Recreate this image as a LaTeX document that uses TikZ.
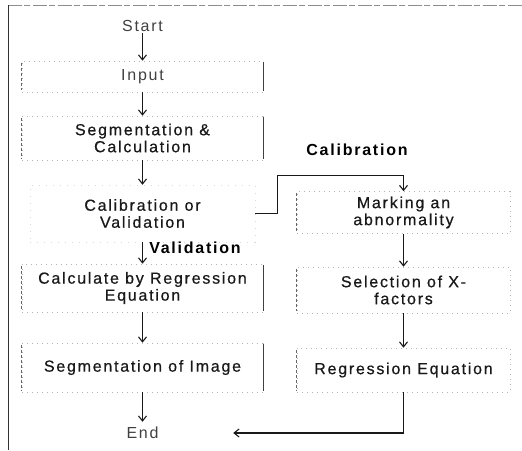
\documentclass[tikz,border=0pt]{standalone}
\usepackage{fontspec}
\setmainfont{Liberation Sans}[LetterSpace=11]
\newfontfamily\heavyfont{Liberation Sans}[LetterSpace=11, FakeBold=0.6]
\usetikzlibrary{arrows.meta}
\tikzset{
  txt/.style={font=\heavyfont\fontsize{16}{17}\selectfont, align=center, text=black!90, inner sep=0pt},
  lbl/.style={font=\fontsize{16}{18}\selectfont\bfseries, inner sep=0pt, text=black},
  boxl/.style={txt, draw=black!30, dash pattern=on 1pt off 4pt, line width=0.6pt, minimum width=241pt},
  boxr/.style={txt, draw=black!30, dash pattern=on 1pt off 4pt, line width=0.6pt, minimum width=213pt},
  plain/.style={txt, font=\fontsize{16}{17}\selectfont, text=black!75},
  arr/.style={-{Straight Barb[length=5pt,width=8pt,line width=1.1pt]}, line width=1.3pt, black!90},
  edge/.style={line width=0.9pt, black!75},
  ledge/.style={line width=0.8pt, black!60, dash pattern=on 3pt off 2pt},
}
\begin{document}
\begin{tikzpicture}[x=1pt, y=-1pt]
\useasboundingbox (0,0) rectangle (522,450);
% outer frame
\draw[line width=0.8pt, black!45, dash pattern=on 14pt off 2pt on 6pt off 3pt] (8,5) -- (522,5);
\draw[line width=1pt, black!80] (8,5) -- (8,450);

% left column
\node[plain, minimum height=14pt] (start) at (142.5,26) {Start};
\node[boxl, minimum height=31pt, font=\fontsize{16}{17}\selectfont, text=black!75] (input) at (142.5,76.5) {Input};
\node[boxl, minimum height=44pt] (segcalc) at (142.5,138) {Segmentation \&\\Calculation};
\node[txt, draw=black!15, dash pattern=on 1pt off 6pt, minimum width=225pt, minimum height=57pt] (calval) at (142.5,213.5) {Calibration or\\Validation};
\node[boxl, minimum height=48pt] (calcreg) at (142.5,288) {Calculate by Regression\\Equation};
\node[boxl, minimum height=49pt] (segimg) at (142.5,367.5) {Segmentation of Image};
\node[plain, minimum height=22pt, minimum width=181pt] (end) at (142.5,433) {End};

% right column
\node[boxr, minimum height=42pt] (marking) at (403.5,212.5) {Marking an\\abnormality};
\node[boxr, minimum height=46pt] (select) at (403.5,290) {Selection of X-\\factors};
\node[boxr, minimum height=44pt] (regeq) at (403.5,370) {Regression Equation};

% box side edges
\foreach \b in {input,segcalc,calcreg,segimg}{
  \draw[edge] ([yshift=-1pt]\b.north east) -- ([yshift=1pt]\b.south east);
  \draw[ledge] ([yshift=-2pt]\b.north west) -- ([yshift=2pt]\b.south west);
}
\foreach \b in {marking,select,regeq}{
  \draw[ledge] ([yshift=-2pt]\b.north west) -- ([yshift=2pt]\b.south west);
}

% labels
\node[lbl] (callbl) at (357,150) {Calibration};
\node[lbl] (vallbl) at (195,248) {Validation};

% connectors
\draw[arr] (start) -- (input);
\draw[arr] (input) -- (segcalc);
\draw[arr] (segcalc) -- (calval);
\draw[arr] (calval) -- (calcreg);
\draw[arr] (calcreg) -- (segimg);
\draw[arr] (segimg) -- (end);
\draw[arr] (marking) -- (select);
\draw[arr] (select) -- (regeq);
\draw[arr] (calval.east) -- ++(22,0) -- ++(0,-38) -| (marking.north);
\draw[arr] (regeq.south) |- (end.east);
\end{tikzpicture}
\end{document}
